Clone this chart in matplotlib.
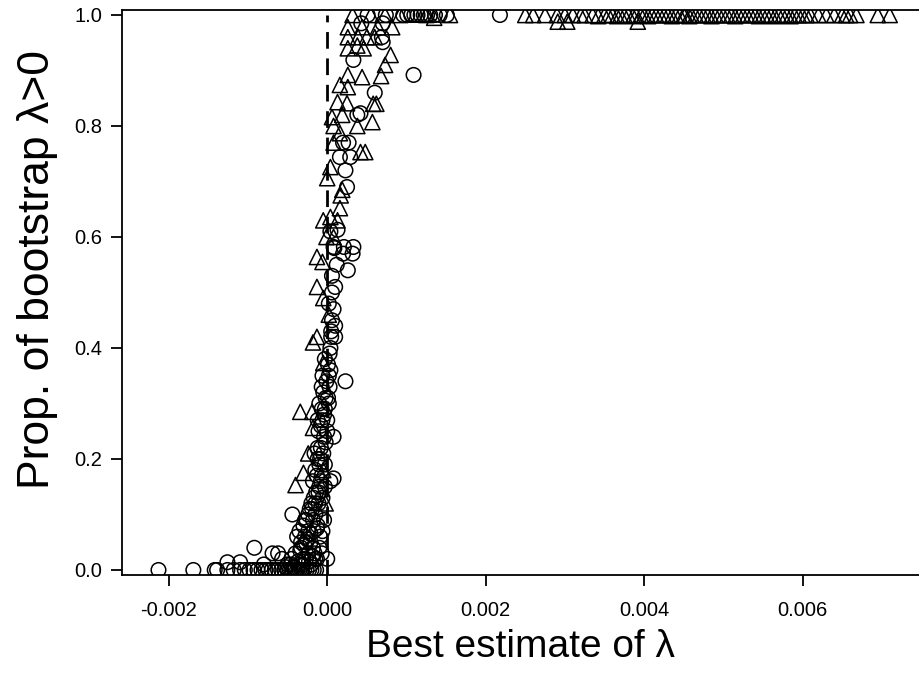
import matplotlib
matplotlib.use("Agg")
import matplotlib.pyplot as plt
import numpy as np
from matplotlib.ticker import FixedLocator, FormatStrFormatter

plt.rcParams['font.family'] = ['Liberation Sans', 'DejaVu Sans']
plt.rcParams['axes.unicode_minus'] = False

# circles: (best estimate, proportion)
circ_x = [-0.00213, -0.00169, -0.00142, -0.00139, -0.00126, -0.00118, -0.00110, -0.00104,
          -0.00098, -0.00093, -0.00088, -0.00083, -0.00078, -0.00074, -0.00070, -0.00066,
          -0.00062, -0.00058, -0.00054, -0.00050, -0.00047, -0.00044, -0.00041, -0.00038,
          -0.00035, -0.00032, -0.00029, -0.00026, -0.00023, -0.00020, -0.00017, -0.00014,
          -0.00126, -0.00110, -0.00092, -0.00069, -0.00062, -0.00080, -0.00057, -0.00050,
          -0.00045, -0.00040, -0.00036, -0.00033, -0.00030, -0.00027, -0.00024, -0.00020,
          -0.00018, -0.00015, 0.0,
          -0.00044, -0.00038, -0.00035, -0.00033, -0.00030, -0.00028, -0.00026, -0.00024,
          -0.00022, -0.00021, -0.00020, -0.00018, -0.00017, -0.00015, -0.00014, -0.00012,
          -0.00011, -0.00010, -0.00008, -0.00006, -0.00004,
          -0.00018, -0.00015, -0.00013, -0.00012, -0.00010, -0.00008, -0.00007, -0.00005,
          -0.00004, -0.00003, -0.00002, 0.0, 0.00004, 0.00008, 0.00008, -0.00011,
          -0.00012, -0.00010, -0.00008, -0.00007, -0.00005, -0.00004, -0.00002, -0.00001,
          0.0, 0.00002, 0.00003, 0.00004, 0.00001, 0.00023, -0.00006,
          0.00003, 0.00005, 0.00010, 0.00010, 0.00008, 0.00006, 0.00010, 0.00026,
          0.00020, 0.00032, 0.00006, 0.00004, 0.00009, 0.00012,
          0.00008, 0.00021, 0.00033, 0.00013, 0.00023, 0.00025, 0.00016, 0.00029,
          0.00020, 0.00027,
          0.00042, 0.00038, 0.00060, 0.00109, 0.00033, 0.00069, 0.00070, 0.00043,
          0.00070, 0.00051, 0.00074, 0.00096, 0.00101, 0.00106, 0.00110, 0.00114,
          0.00118, 0.00122, 0.00126, 0.00130, 0.00136, 0.00142, 0.00151, 0.00218,
          # extra points in the dense lower part of the curve
          -0.00052, -0.00046, -0.00042, -0.00037, -0.00031, -0.00027, -0.00023, -0.00019,
          -0.00016, -0.00013, -0.00010, -0.00007, -0.00034, -0.00029, -0.00025, -0.00021,
          -0.00017, -0.00013, -0.00009, -0.00006, -0.00028, -0.00024, -0.00019, -0.00015,
          -0.00011, -0.00008, -0.00003, -0.00016, -0.00012, -0.00009, -0.00006, -0.00003,
          0.00001, -0.00007, -0.00003, 0.00002, 0.00005, 0.00002, 0.00006, 0.00004]
circ_y = [0.0] * 32 + \
         [0.014, 0.014, 0.04, 0.03, 0.03, 0.01, 0.02, 0.01,
          0.02, 0.03, 0.01, 0.04, 0.02, 0.05, 0.03, 0.01,
          0.04, 0.02, 0.02,
          0.10, 0.06, 0.07, 0.05, 0.08, 0.06, 0.09, 0.07,
          0.11, 0.05, 0.12, 0.09, 0.13, 0.10, 0.14, 0.08,
          0.12, 0.15, 0.11, 0.13, 0.09,
          0.16, 0.18, 0.17, 0.20, 0.19, 0.22, 0.17, 0.21,
          0.24, 0.19, 0.23, 0.25, 0.16, 0.165, 0.24, 0.25,
          0.27, 0.30, 0.26, 0.29, 0.32, 0.28, 0.31, 0.34,
          0.27, 0.30, 0.33, 0.36, 0.37, 0.34, 0.35,
          0.39, 0.42, 0.42, 0.44, 0.47, 0.45, 0.51, 0.54,
          0.57, 0.57, 0.50, 0.40, 0.58, 0.55,
          0.582, 0.582, 0.582, 0.613, 0.72, 0.69, 0.744, 0.744,
          0.77, 0.77,
          0.823, 0.82, 0.86, 0.892, 0.919, 0.96, 0.951, 0.985,
          0.985, 1.0, 1.0, 1.0, 1.0, 1.0, 1.0, 1.0,
          1.0, 1.0, 1.0, 1.0, 1.0, 1.0, 1.0, 1.0,
          0.005, 0.01, 0.005, 0.015, 0.01, 0.02, 0.015, 0.025,
          0.03, 0.02, 0.04, 0.03, 0.035, 0.045, 0.055, 0.065,
          0.07, 0.075, 0.06, 0.07, 0.09, 0.10, 0.11, 0.12,
          0.14, 0.16, 0.15, 0.21, 0.22, 0.20, 0.27, 0.29,
          0.31, 0.33, 0.38, 0.35, 0.43, 0.48, 0.53, 0.61]

# triangles
tri_x = [-0.00040, -0.00030, -0.00024, -0.00018, -0.00034, -0.00019, -0.00005, -0.00002,
         -0.00013, -0.00018, -0.00005, -0.00005, -0.00013, -0.00013, -0.00006, 0.00002,
         -0.00001,
         -0.00005, 0.00004, 0.00013, 0.00008, 0.00016, 0.00019, 0.00017, 0.0,
         0.00004, 0.00042, 0.00048, 0.00008, 0.00016, 0.00008, 0.00038, 0.00057,
         0.00006, 0.00019, 0.00013, 0.00025, 0.00058, 0.00062, 0.00016, 0.00026,
         0.00026, 0.00044, 0.00068, 0.00073, 0.00080, 0.00026, 0.00038, 0.00046,
         0.00026, 0.00039, 0.00050, 0.00060, 0.00026, 0.00044, 0.00064, 0.00082,
         0.00032, 0.00055, 0.00073, 0.00092, 0.00155, 0.00125, 0.00135,
         0.00250, 0.00260, 0.00275, 0.00290, 0.00300, 0.00310, 0.00320, 0.00335,
         0.00350, 0.00360, 0.00370, 0.00380, 0.00390, 0.00400, 0.00410, 0.00415,
         0.00420, 0.00430, 0.00440, 0.00445, 0.00450, 0.00460, 0.00465, 0.00470,
         0.00480, 0.00490, 0.00495, 0.00500, 0.00510, 0.00520, 0.00525, 0.00530,
         0.00540, 0.00550, 0.00560, 0.00570, 0.00580, 0.00590, 0.00600, 0.00605,
         0.00610, 0.00630, 0.00640, 0.00650, 0.00655, 0.00660, 0.00668, 0.00695,
         0.00710, 0.00291, 0.00303, 0.00392,
         # extra overlapping triangles in the dense band
         0.00325, 0.00342, 0.00355, 0.00366, 0.00375, 0.00386, 0.00396, 0.00405,
         0.00425, 0.00435, 0.00452, 0.00457, 0.00475, 0.00485, 0.00505, 0.00515,
         0.00535, 0.00545, 0.00555, 0.00565, 0.00575, 0.00585, 0.00595, 0.00620]
tri_y = [0.153, 0.175, 0.21, 0.256, 0.285, 0.285, 0.18, 0.12,
         0.42, 0.41, 0.373, 0.49, 0.51, 0.564, 0.555, 0.46,
         0.60,
         0.63, 0.636, 0.63, 0.60, 0.652, 0.685, 0.675, 0.706,
         0.726, 0.753, 0.753, 0.77, 0.787, 0.80, 0.80, 0.807,
         0.816, 0.82, 0.843, 0.841, 0.84, 0.84, 0.874, 0.87,
         0.892, 0.888, 0.89, 0.91, 0.928, 0.94, 0.945, 0.94,
         0.96, 0.96, 0.96, 0.96, 0.978, 0.978, 0.978, 0.978,
         1.0, 1.0, 1.0, 1.0, 1.0, 1.0, 0.995] + [1.0] * 49 + [0.988, 0.988, 0.988] + \
        [1.0, 0.998, 1.0, 0.998, 1.0, 0.998, 1.0, 0.998,
         1.0, 0.998, 1.0, 0.998, 1.0, 0.998, 1.0, 0.998,
         1.0, 0.998, 1.0, 0.998, 1.0, 0.998, 1.0, 1.0]

fig = plt.figure(figsize=(9.19, 6.85), dpi=100)
ax = fig.add_axes([0.1328, 0.1606, 0.8672, 0.8248])

ax.plot([0, 0], [-0.01, 1.0], color='black', lw=2.0, ls=(0, (6, 3.5)), zorder=1)
ax.scatter(circ_x, circ_y, s=110, marker='o', facecolors='none', edgecolors='black',
           linewidths=1.1, zorder=2)
ax.scatter(tri_x, tri_y, s=120, marker='^', facecolors='none', edgecolors='black',
           linewidths=1.1, zorder=2)

ax.set_xlim(-0.00259, 0.00747)
ax.set_ylim(-0.009, 1.009)
ax.xaxis.set_major_locator(FixedLocator([-0.002, 0.0, 0.002, 0.004, 0.006]))
ax.xaxis.set_major_formatter(FormatStrFormatter('%.3f'))
ax.yaxis.set_major_locator(FixedLocator([0.0, 0.2, 0.4, 0.6, 0.8, 1.0]))
ax.yaxis.set_major_formatter(FormatStrFormatter('%.1f'))
ax.tick_params(direction='out', length=8, width=1.3, labelsize=14.5)
ax.tick_params(axis='x', pad=11)
ax.tick_params(axis='y', pad=6)
ax.spines['right'].set_visible(False)
for s in ['left', 'bottom', 'top']:
    ax.spines[s].set_linewidth(1.3)

ax.set_xlabel('Best estimate of λ', fontsize=28, labelpad=6)
ax.set_ylabel('Prop. of bootstrap λ>0', fontsize=32)
ax.yaxis.set_label_coords(-0.08, 0.54)

fig.savefig('out.png', dpi=100)
